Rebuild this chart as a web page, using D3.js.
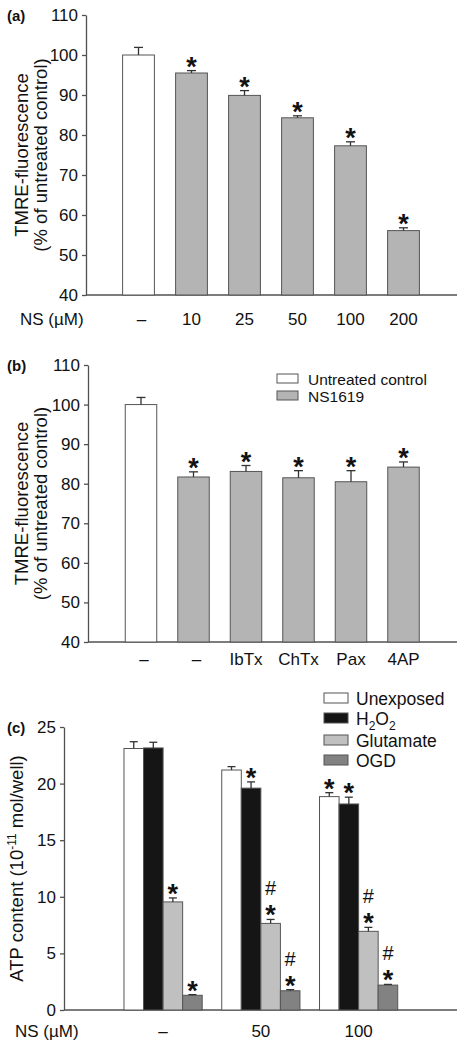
<!DOCTYPE html>
<html><head><meta charset="utf-8">
<script src="https://cdn.jsdelivr.net/npm/d3@7"></script>
<style>
body{margin:0;background:#fff;}
text{font-family:"Liberation Sans",Arial,Helvetica,sans-serif;fill:#111;}
</style>
</head><body>
<svg id="fig" width="467" height="1050"></svg>
<script>
// ---------- Panel (a) data ----------
const catsA = ["–", "10", "25", "50", "100", "200"];
const valsA = [100, 95.5, 89.9, 84.3, 77.3, 56.1];
const errsA = [1.9, 0.6, 1.2, 0.5, 1.0, 0.7];
const starsA = [false, true, true, true, true, true];
const ticksA = [40, 50, 60, 70, 80, 90, 100, 110];

// ---------- Panel (b) data ----------
const catsB = ["–", "–", "IbTx", "ChTx", "Pax", "4AP"];
const valsB = [100, 81.7, 83.1, 81.5, 80.5, 84.2];
const errsB = [1.8, 1.3, 1.5, 1.8, 2.8, 1.3];
const starsB = [false, true, true, true, true, true];
const seriesB = ["Untreated control", "NS1619"];
const seriesIdxB = [0, 1, 1, 1, 1, 1];
const ticksB = [40, 50, 60, 70, 80, 90, 100, 110];

// ---------- Panel (c) data ----------
const groupsC = ["–", "50", "100"];
const seriesC = ["Unexposed", "H2O2", "Glutamate", "OGD"];
const valsUnexposed = [23.1, 21.2, 18.85];
const valsH2O2 = [23.15, 19.6, 18.2];
const valsGlutamate = [9.55, 7.65, 6.95];
const valsOGD = [1.3, 1.7, 2.2];
const errsUnexposed = [0.6, 0.3, 0.35];
const errsH2O2 = [0.5, 0.55, 0.6];
const errsGlutamate = [0.35, 0.35, 0.35];
const errsOGD = [0.06, 0.1, 0.06];
const starsUnexposed = [false, false, true];
const starsH2O2 = [false, true, true];
const starsGlutamate = [true, true, true];
const starsOGD = [true, true, true];
const hashUnexposed = [false, false, false];
const hashH2O2 = [false, false, false];
const hashGlutamate = [false, true, true];
const hashOGD = [false, true, true];
const ticksC = [0, 5, 10, 15, 20, 25];

// ---------- styles ----------
const AXIS = "#505050";
const EDGE = "#555";
const GRAY = "#b4b4b4";
const fillsB = ["#ffffff", GRAY];
const fillsC = ["#ffffff", "#151515", "#c0c0c0", "#828282"];
const FS = 17;

const svg = d3.select("#fig");

function yAxis(g, y, ticks, x) {
  const ax = d3.axisLeft(y).tickValues(ticks).tickSize(4).tickPadding(4).tickSizeOuter(0);
  const a = g.append("g").attr("transform", `translate(${x},0)`).call(ax);
  a.select(".domain").attr("stroke", AXIS).attr("stroke-width", 1.3);
  a.selectAll(".tick line").attr("stroke", AXIS).attr("stroke-width", 1.3);
  a.selectAll(".tick text").attr("font-size", FS).attr("fill", "#111")
    .attr("font-family", '"Liberation Sans",Arial,sans-serif');
  return a;
}

function errBar(g, cx, yTop, yErr, cap) {
  g.append("line").attr("x1", cx).attr("x2", cx).attr("y1", yTop).attr("y2", yErr)
    .attr("stroke", "#333").attr("stroke-width", 1.3);
  g.append("line").attr("x1", cx - cap / 2).attr("x2", cx + cap / 2).attr("y1", yErr).attr("y2", yErr)
    .attr("stroke", "#333").attr("stroke-width", 1.3);
}

function star(g, cx, yErr) {
  g.append("text").attr("x", cx).attr("y", yErr + 5).attr("text-anchor", "middle")
    .attr("font-size", 27).attr("font-weight", "bold").text("*");
}
function hash(g, cx, yErr) {
  g.append("text").attr("x", cx).attr("y", yErr - 24).attr("text-anchor", "middle")
    .attr("font-size", 20).text("#");
}

function ytitle2(g, cy, lines) {
  lines.forEach((t, i) => {
    g.append("text").attr("transform", `translate(${28 + i * 19},${cy}) rotate(-90)`)
      .attr("text-anchor", "middle").attr("font-size", 18.5).text(t);
  });
}

// ---------- Panel (a) ----------
(function () {
  const g = svg.append("g");
  const y = d3.scaleLinear([40, 110], [295, 15]);
  const x = d3.scaleBand(d3.range(catsA.length), [112, 430]).paddingInner(0.4).paddingOuter(0.2);
  const axX = 86;
  g.append("line").attr("x1", axX).attr("x2", 457).attr("y1", y(40)).attr("y2", y(40))
    .attr("stroke", AXIS).attr("stroke-width", 1.3);
  catsA.forEach((c, i) => {
    const cx = x(i) + x.bandwidth() / 2;
    g.append("rect").attr("x", x(i)).attr("y", y(valsA[i])).attr("width", x.bandwidth())
      .attr("height", y(40) - y(valsA[i])).attr("fill", i === 0 ? "#fff" : GRAY)
      .attr("stroke", EDGE).attr("stroke-width", 1);
    const ye = y(valsA[i] + errsA[i]);
    errBar(g, cx, y(valsA[i]), ye, 9);
    if (starsA[i]) star(g, cx, ye);
    g.append("text").attr("x", cx + (c === "–" ? 3 : 0)).attr("y", 325).attr("text-anchor", "middle")
      .attr("font-size", FS).text(c);
  });
  yAxis(g, y, ticksA, axX);
  g.append("text").attr("x", 20).attr("y", 325).attr("font-size", FS).text("NS (µM)");
  g.append("text").attr("x", 7).attr("y", 21).attr("font-size", 15).attr("font-weight", "bold").text("(a)");
  ytitle2(g, (y(40) + y(110)) / 2, ["TMRE-fluorescence", "(% of untreated control)"]);
})();

// ---------- Panel (b) ----------
(function () {
  const g = svg.append("g");
  const y = d3.scaleLinear([40, 110], [642, 365]);
  const x = d3.scaleBand(d3.range(catsB.length), [114.75, 429.75]).paddingInner(0.4).paddingOuter(0.2);
  const axX = 88;
  g.append("line").attr("x1", axX).attr("x2", 457).attr("y1", y(40)).attr("y2", y(40))
    .attr("stroke", AXIS).attr("stroke-width", 1.3);
  catsB.forEach((c, i) => {
    const cx = x(i) + x.bandwidth() / 2;
    g.append("rect").attr("x", x(i)).attr("y", y(valsB[i])).attr("width", x.bandwidth())
      .attr("height", y(40) - y(valsB[i])).attr("fill", fillsB[seriesIdxB[i]])
      .attr("stroke", EDGE).attr("stroke-width", 1);
    const ye = y(valsB[i] + errsB[i]);
    errBar(g, cx, y(valsB[i]), ye, 9);
    if (starsB[i]) star(g, cx, ye);
    g.append("text").attr("x", cx + (c === "–" ? 3 : 0)).attr("y", 665).attr("text-anchor", "middle")
      .attr("font-size", FS).text(c);
  });
  yAxis(g, y, ticksB, axX);
  g.append("text").attr("x", 7).attr("y", 371).attr("font-size", 15).attr("font-weight", "bold").text("(b)");
  ytitle2(g, (y(40) + y(110)) / 2, ["TMRE-fluorescence", "(% of untreated control)"]);
  // legend
  seriesB.forEach((s, i) => {
    g.append("rect").attr("x", 277).attr("y", 374 + i * 17).attr("width", 21).attr("height", 9)
      .attr("fill", fillsB[i]).attr("stroke", EDGE).attr("stroke-width", 1);
    g.append("text").attr("x", 308).attr("y", 385 + i * 17).attr("font-size", 15.5).text(s);
  });
})();

// ---------- Panel (c) ----------
(function () {
  const g = svg.append("g");
  const y = d3.scaleLinear([0, 25], [1010, 727]);
  const x0 = d3.scaleBand(groupsC, [114.2, 407.5]).paddingInner(0.2).paddingOuter(0.1);
  const x1 = d3.scaleBand(seriesC, [0, x0.bandwidth()]).padding(0);
  const axX = 64;
  const vals = [valsUnexposed, valsH2O2, valsGlutamate, valsOGD];
  const errs = [errsUnexposed, errsH2O2, errsGlutamate, errsOGD];
  const stars = [starsUnexposed, starsH2O2, starsGlutamate, starsOGD];
  const hashes = [hashUnexposed, hashH2O2, hashGlutamate, hashOGD];
  g.append("line").attr("x1", axX).attr("x2", 457).attr("y1", y(0)).attr("y2", y(0))
    .attr("stroke", AXIS).attr("stroke-width", 1.3);
  groupsC.forEach((grp, gi) => {
    seriesC.forEach((s, si) => {
      const bx = x0(grp) + x1(s);
      const cx = bx + x1.bandwidth() / 2;
      const v = vals[si][gi];
      g.append("rect").attr("x", bx).attr("y", y(v)).attr("width", x1.bandwidth())
        .attr("height", y(0) - y(v)).attr("fill", fillsC[si])
        .attr("stroke", EDGE).attr("stroke-width", 1);
      const ye = y(v + errs[si][gi]);
      errBar(g, cx, y(v), ye, 8);
      if (stars[si][gi]) star(g, cx, ye);
      if (hashes[si][gi]) hash(g, cx, ye);
    });
    g.append("text").attr("x", x0(grp) + x0.bandwidth() / 2).attr("y", 1037).attr("text-anchor", "middle")
      .attr("font-size", FS).text(grp);
  });
  yAxis(g, y, ticksC, axX);
  g.append("text").attr("x", 15).attr("y", 1037).attr("font-size", FS).text("NS (µM)");
  g.append("text").attr("x", 7).attr("y", 733).attr("font-size", 15).attr("font-weight", "bold").text("(c)");
  const t = g.append("text").attr("transform", `translate(23,${(y(0) + y(25)) / 2}) rotate(-90)`)
    .attr("text-anchor", "middle").attr("font-size", 18.5);
  t.append("tspan").text("ATP content (10");
  t.append("tspan").attr("font-size", 12).attr("dy", -7).text("-11");
  t.append("tspan").attr("dy", 7).text(" mol/well)");
  // legend
  const legY = [693, 713, 735, 755];
  seriesC.forEach((s, i) => {
    g.append("rect").attr("x", 324).attr("y", legY[i]).attr("width", 24).attr("height", 10)
      .attr("fill", fillsC[i]).attr("stroke", EDGE).attr("stroke-width", 1);
    const tx = g.append("text").attr("x", 356).attr("y", legY[i] + 12).attr("font-size", 17.5);
    if (s === "H2O2") {
      tx.append("tspan").text("H");
      tx.append("tspan").attr("font-size", 12).attr("dy", 5).text("2");
      tx.append("tspan").attr("dy", -5).text("O");
      tx.append("tspan").attr("font-size", 12).attr("dy", 5).text("2");
    } else {
      tx.text(s);
    }
  });
})();
</script>
</body></html>
